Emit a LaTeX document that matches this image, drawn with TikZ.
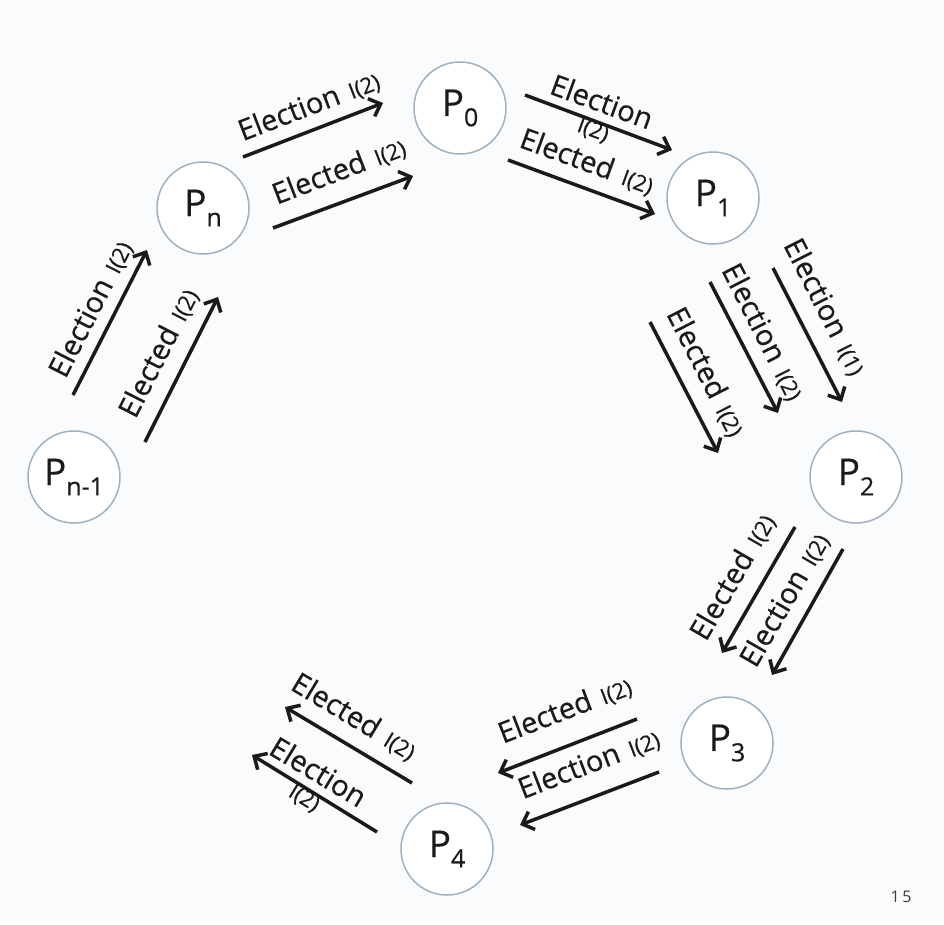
\documentclass[tikz,border=0pt]{standalone}
\usepackage{fontspec}
\setmainfont{Open Sans}
\newfontfamily\lblfont[FakeBold=0.5]{Open Sans}
\usetikzlibrary{arrows.meta}
\definecolor{bg}{RGB}{249,251,253}
\definecolor{ring}{RGB}{160,178,194}
\definecolor{ink}{RGB}{26,26,26}
\newcommand\idx[1]{\hspace{3pt}{\fontsize{22}{24}\selectfont I(#1)}}
\newcommand\psub[1]{P\raisebox{-0.28em}{\fontsize{25}{25}\selectfont #1}}
\begin{document}
\begin{tikzpicture}[x=1pt,y=-1pt,
  proc/.style={circle,draw=ring,line width=1.5pt,fill=white,minimum size=92pt,inner sep=0pt,font=\lblfont\fontsize{37}{40}\selectfont,text=ink},
  msg/.style={draw=ink,line width=3.5pt,-{Straight Barb[length=10pt,width=19pt]}},
  lbl/.style={font=\lblfont\fontsize{29}{32}\selectfont,inner sep=0pt,text=ink,align=center}]
\fill[bg] (0,0) rectangle (944,924);
\useasboundingbox (0,0) rectangle (944,924);
% processes
\node[proc] (p0) at (460,108) {\psub{0}};
\node[proc] (p1) at (713,198) {\psub{1}};
\node[proc] (p2) at (856,477) {\psub{2}};
\node[proc] (p3) at (727,743) {\psub{3}};
\node[proc] (p4) at (447,849) {\psub{4}};
\node[proc] (pm) at (74,477) {\psub{n-1}};
\node[proc] (pn) at (203,208) {\psub{n}};
% arrow end points
\coordinate (a1s) at (243,157); \coordinate (a1e) at (383,103);
\coordinate (a2s) at (273,228); \coordinate (a2e) at (413,176);
\coordinate (b1s) at (525,95);  \coordinate (b1e) at (672,150);
\coordinate (b2s) at (508,160); \coordinate (b2e) at (655,214);
\coordinate (c1s) at (773,268); \coordinate (c1e) at (842,402);
\coordinate (c2s) at (710,282); \coordinate (c2e) at (778,413);
\coordinate (c3s) at (650,322); \coordinate (c3e) at (718,453);
\coordinate (d1s) at (795,527); \coordinate (d1e) at (722,653);
\coordinate (d2s) at (843,549); \coordinate (d2e) at (772,675);
\coordinate (e1s) at (637,719); \coordinate (e1e) at (498,773);
\coordinate (e2s) at (659,772); \coordinate (e2e) at (520,825);
\coordinate (f1s) at (412,783); \coordinate (f1e) at (285,707);
\coordinate (f2s) at (377,832); \coordinate (f2e) at (252,755);
\coordinate (g1s) at (73,395);  \coordinate (g1e) at (147,250);
\coordinate (g2s) at (145,442); \coordinate (g2e) at (218,297);
% arrows
\foreach \a in {a1,a2,b1,b2,c1,c2,c3,d1,d2,e1,e2,f1,f2,g1,g2}
  \draw[msg] (\a s) -- (\a e);
% labels
\node[lbl,rotate=21] (la1) at (309,106) {Election \idx{2}};
\node[lbl,rotate=21] (la2) at (339,171) {Elected \idx{2}};
\node[lbl,rotate=-20] (lb1) at (597,115) {Election\\[-6pt]\idx{2}};
\node[lbl,rotate=-20] (lb2) at (587,162) {Elected \idx{2}};
\node[lbl,rotate=-63] (lc1) at (825,307) {Election \idx{1}};
\node[lbl,rotate=-63] (lc2) at (763,332) {Election \idx{2}};
\node[lbl,rotate=-63] (lc3) at (706,372) {Elected \idx{2}};
\node[lbl,rotate=60] (ld1) at (733,577) {Elected \idx{2}};
\node[lbl,rotate=60] (ld2) at (785,600) {Election \idx{2}};
\node[lbl,rotate=21] (le1) at (565,710) {Elected \idx{2}};
\node[lbl,rotate=21] (le2) at (589,764) {Election \idx{2}};
\node[lbl,rotate=-31] (lf1) at (354,717) {Elected \idx{2}};
\node[lbl,rotate=-31] (lf2) at (311,784) {Election\\[-6pt]\idx{2}};
\node[lbl,rotate=63] (lg1) at (91,309) {Election \idx{2}};
\node[lbl,rotate=63] (lg2) at (159,353) {Elected \idx{2}};
% page number
\node[font=\fontsize{16}{18}\selectfont,text=ink!85] (page) at (901,897) {1\,5};
\end{tikzpicture}
\end{document}
